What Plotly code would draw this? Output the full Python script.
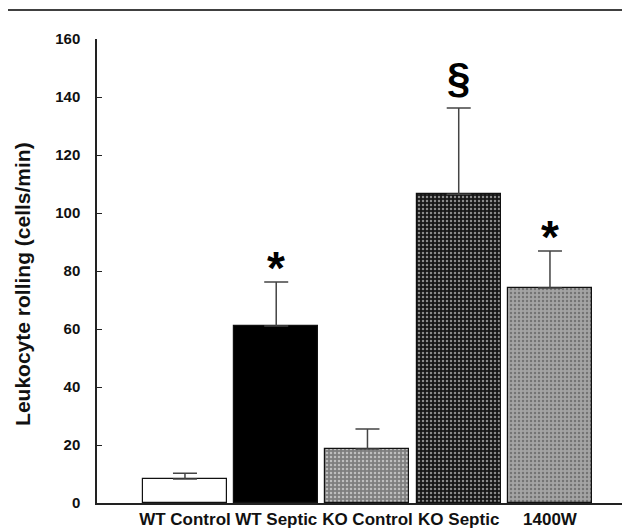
import plotly.graph_objects as go

categories = ["WT Control", "WT Septic", "KO Control", "KO Septic", "1400W"]
means = [8.3, 61.0, 18.6, 106.5, 74.1]
sem = [2.0, 15.2, 6.9, 29.7, 12.8]
markers = ["", "*", "", "§", "*"]
y_ticks = [0, 20, 40, 60, 80, 100, 120, 140, 160]

fills = ["#ffffff", "#000000", "#7e7e7e", "#161616", "#a4a4a4"]
pat_shape = ["", "", ".", ".", "."]
pat_fg = ["#ffffff", "#000000", "#b4b4b4", "#8a8a8a", "#f6f6f6"]

fig = go.Figure()
fig.add_trace(go.Bar(
    x=list(range(len(categories))), y=means, width=0.92,
    marker=dict(color=fills, line=dict(color="#111", width=1.2),
                pattern=dict(shape=pat_shape, fgcolor=pat_fg,
                             size=4, solidity=0.3, fillmode="overlay")),
    error_y=dict(type="data", array=sem, arrayminus=[0]*len(sem), symmetric=False,
                 color="#444", thickness=1.5, width=12),
    showlegend=False,
))

for i, (m, s, t) in enumerate(zip(means, sem, markers)):
    if t:
        fig.add_annotation(x=i, y=m + s, text=f"<b>{t}</b>", showarrow=False,
                           yanchor="bottom", yshift=(-14 if t == "*" else 5),
                           font=dict(size=46 if t == "*" else 42, color="#000",
                                     family="Liberation Sans, Arial, sans-serif"))

# top rule and cropped caption glyph
fig.add_shape(type="line", xref="paper", yref="paper", x0=-0.172, x1=1.0,
              y0=1 + 29/464, y1=1 + 29/464, line=dict(color="#000", width=1.5))
fig.add_annotation(xref="paper", yref="paper", x=-0.124, y=1 + 33/464, text="<b>g</b>",
                   showarrow=False, yanchor="bottom", font=dict(size=16, color="#000"))

# y-axis title
fig.add_annotation(xref="paper", yref="paper", x=-0.139, y=0.472,
                   text="<b>Leukocyte rolling (cells/min)</b>", textangle=-90,
                   showarrow=False, xanchor="center", yanchor="middle",
                   font=dict(size=21, color="#111"))

fig.update_layout(
    width=622, height=521,
    margin=dict(l=89, r=0, t=31, b=26),
    paper_bgcolor="white", plot_bgcolor="white",
    font=dict(family="Liberation Sans, Arial, sans-serif", color="#111"),
    bargap=0,
)
fig.update_xaxes(range=[-0.964, 4.877], tickvals=list(range(len(categories))),
                 ticktext=[f"<b>{c}</b>" for c in categories],
                 showline=True, linecolor="#222", linewidth=1.5, ticks="",
                 showgrid=False, zeroline=False, tickfont=dict(size=17))
fig.update_yaxes(range=[0, 160], tickvals=y_ticks, ticktext=[f"<b>{v}</b>" for v in y_ticks],
                 showline=True, linecolor="#222", linewidth=1.5, ticks="inside",
                 ticklen=5, tickcolor="#222", showgrid=False, zeroline=False,
                 tickfont=dict(size=15), ticklabelstandoff=12)

fig.write_html("out.html")
